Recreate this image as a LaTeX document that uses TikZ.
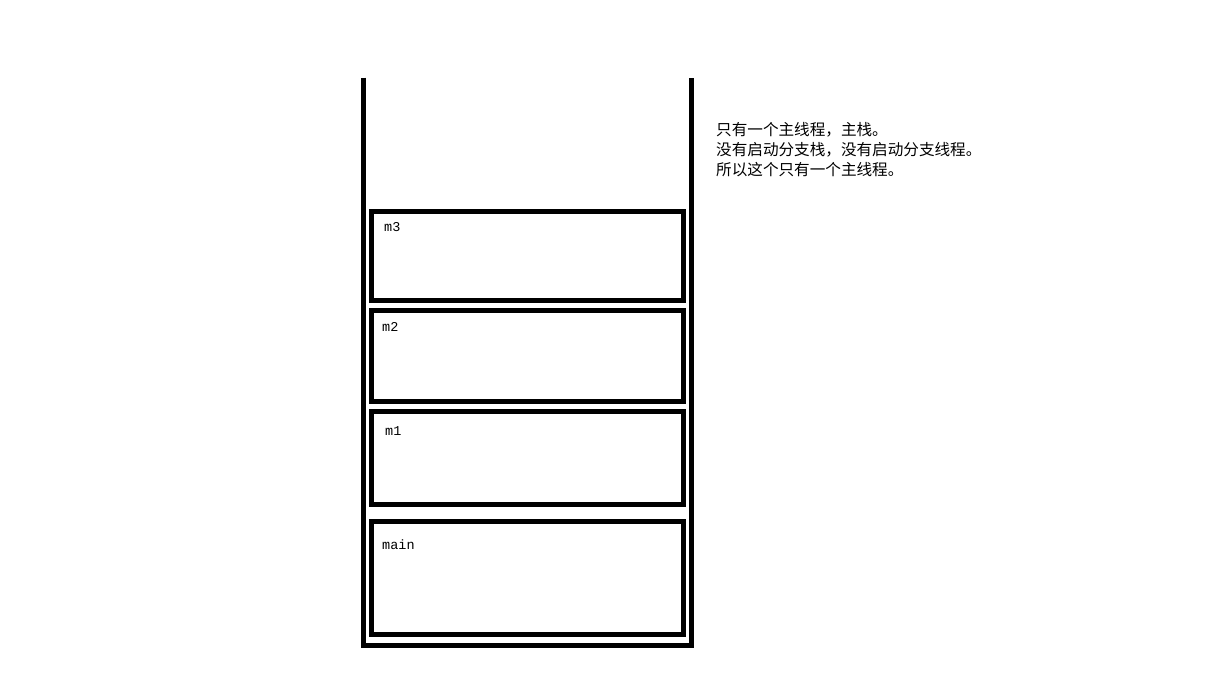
\documentclass[tikz,border=0pt]{standalone}
\usepackage{fontspec}
\setmonofont{Liberation Mono}
\newfontfamily\cjk{Noto Sans CJK SC}
\tikzset{
  wall/.style  = {line width=#1, line join=miter},
  wall/.default = 5pt,
  frame/.style = {draw, line width=5pt},
  lbl/.style   = {anchor=base west, inner sep=0pt,
                  font=\ttfamily\fontsize{13.5}{16}\selectfont}
}
\begin{document}
\begin{tikzpicture}[x=1pt, y=-1pt]
	\def \xl{371.5}
	\def \xr{683}
	
	\useasboundingbox (0,0) rectangle (1216,695);
	
	% Stack (open on top)
	\draw[wall] (363.5,77.7) -- (363.5,645.5) -- (691.5,645.5) -- (691.5,77.7);
	
	% Frames
	\draw[frame] (\xl,211.5) rectangle (\xr,300.8); % m3
	\draw[frame] (\xl,310.8) rectangle (\xr,401.5); % m2
	\draw[frame] (\xl,411.5) rectangle (\xr,504.5); % m1
	\draw[frame] (\xl,521.5) rectangle (\xr,634.2); % main
	
	% Labels
	\node[lbl] (m3)   at (384,231.5) {m3};
	\node[lbl] (m2)   at (382,331.5) {m2};
	\node[lbl] (m1)   at (385,435)   {m1};
	\node[lbl] (main) at (382,549)   {main};
	
	% Note
	\node[anchor=north west, inner sep=0pt, align=left,
	      font=\cjk\fontsize{15.6}{20}\selectfont] (note) at (716,122)
	  {只有一个主线程，主栈。\\没有启动分支栈，没有启动分支线程。\\所以这个只有一个主线程。};
	
\end{tikzpicture}
\end{document}
